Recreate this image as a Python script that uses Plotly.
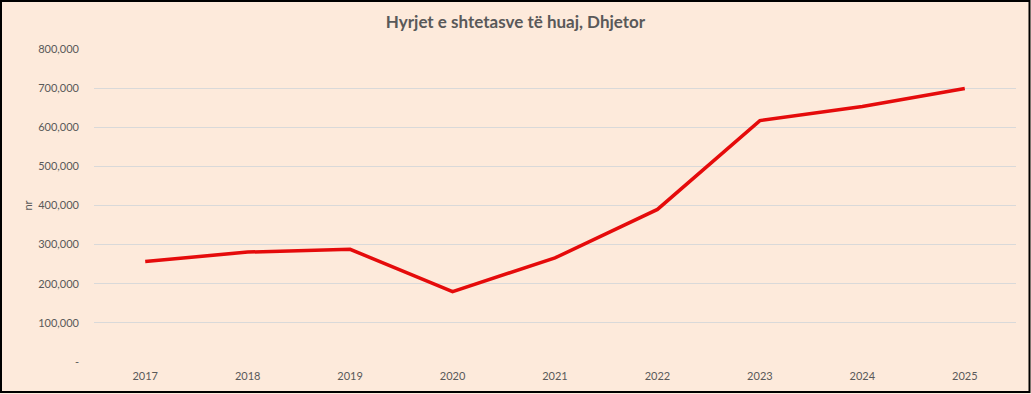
import plotly.graph_objects as go

years = ["2017", "2018", "2019", "2020", "2021", "2022", "2023", "2024", "2025"]
arrivals = [257000, 281000, 288000, 180000, 266000, 390000, 617000, 653000, 699000]
y_tick_vals = [0, 100000, 200000, 300000, 400000, 500000, 600000, 700000, 800000]
y_tick_text = ["-", "100,000", "200,000", "300,000", "400,000", "500,000", "600,000", "700,000", "800,000"]

BG = "#FDEADB"
TXT = "#595959"
FONT = "Lato"

W, H = 1031, 394
ML, MR, MT, MB = 94, 15, 49, 32
pw = W - ML - MR
ph = H - MT - MB

def px_x(x):
    return (x - ML) / pw

def px_y(y):
    return (H - MB - y) / ph

fig = go.Figure()
fig.add_trace(go.Scatter(
    x=years, y=arrivals, mode="lines",
    line=dict(color="#E50B0B", width=3.5),
    hoverinfo="x+y", showlegend=False,
))

fig.update_layout(
    width=W, height=H,
    margin=dict(l=ML, r=MR, t=MT, b=MB),
    paper_bgcolor=BG, plot_bgcolor=BG,
    font=dict(family=FONT, color=TXT, size=11),
    title=dict(
        text="<b>Hyrjet e shtetasve të huaj, Dhjetor</b>",
        x=0.5, xref="container", xanchor="center",
        y=1 - 22 / H, yanchor="middle",
        font=dict(family=FONT, size=17, color=TXT),
    ),
    xaxis=dict(
        type="category", range=[-0.5, 8.5],
        showgrid=False, zeroline=False, showline=False,
        ticks="", tickfont=dict(size=11, color=TXT),
        ticklabelstandoff=6,
    ),
    yaxis=dict(
        range=[0, 800000],
        tickvals=y_tick_vals, ticktext=y_tick_text,
        showgrid=True, gridcolor="#D9D9D9", gridwidth=1,
        zeroline=False, showline=False, ticks="",
        tickfont=dict(size=11, color=TXT),
        ticklabelstandoff=14,
        title=dict(text="nr", standoff=3, font=dict(size=11, color=TXT)),
    ),
    shapes=[dict(
        type="rect", xref="paper", yref="paper",
        x0=px_x(1), x1=px_x(1029.5), y0=px_y(392), y1=px_y(1),
        line=dict(color="#000000", width=2), fillcolor="rgba(0,0,0,0)",
        layer="above",
    )],
)

fig.write_html(
    "out.html",
    config={"displayModeBar": False},
    post_script="document.body.style.margin='0';document.body.style.padding='0';",
)
